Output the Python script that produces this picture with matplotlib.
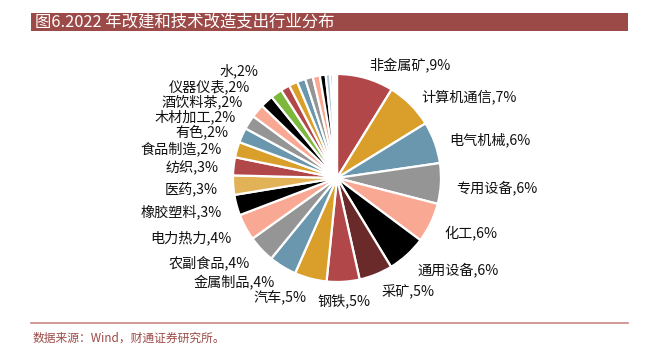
import math
import matplotlib
matplotlib.use("Agg")
import matplotlib.pyplot as plt
from matplotlib.patches import Rectangle

plt.rcParams['font.family'] = ['Noto Sans CJK SC', 'DejaVu Sans']

# ---- data ----
categories = ["非金属矿", "计算机通信", "电气机械", "专用设备", "化工", "通用设备",
              "采矿", "钢铁", "汽车", "金属制品", "农副食品", "电力热力",
              "橡胶塑料", "医药", "纺织", "食品制造", "有色", "木材加工",
              "酒饮料茶", "仪器仪表", "水",
              "", "", "", "", "", "", "", "", "", "", ""]
values = [8.8, 7.4, 6.5, 6.3, 6.2, 6.1,
          5.2, 5.1, 5.0, 4.3, 4.2, 4.1,
          3.2, 3.0, 2.8, 2.4, 2.3, 2.2,
          2.1, 2.0, 1.8,
          1.4, 1.35, 1.3, 1.2, 1.1, 0.9, 0.7, 0.4, 0.3, 0.2, 0.15]
pct_labels = ["9%", "7%", "6%", "6%", "6%", "6%",
              "5%", "5%", "5%", "4%", "4%", "4%",
              "3%", "3%", "3%", "2%", "2%", "2%",
              "2%", "2%", "2%",
              "", "", "", "", "", "", "", "", "", "", ""]

RED, GOLD, BLUE, GRAY, SALMON, BLACK = "#B2474A", "#DA9F2A", "#6B97AE", "#959595", "#F9A993", "#000000"
colors = [RED, GOLD, BLUE, GRAY, SALMON, BLACK, "#6A2A2A",
          RED, GOLD, BLUE, GRAY, SALMON, BLACK, "#E2B257",
          RED, GOLD, BLUE, GRAY, SALMON, BLACK, "#7CB83C",
          RED, GOLD, BLUE, GRAY, SALMON, BLACK, "#A9C7D8",
          RED, GOLD, "#C8D0D8", SALMON]

labels = [f"{c},{p}" if c else "" for c, p in zip(categories, pct_labels)]

W, H = 656, 354
fig = plt.figure(figsize=(W / 100, H / 100), dpi=100)
fig.patch.set_facecolor("white")

# title bar
fig.patches.append(Rectangle((31 / W, 1 - 31 / H), (628 - 31) / W, 18 / H,
                             transform=fig.transFigure, facecolor="#9C4A47",
                             edgecolor="none", zorder=0))
fig.text(35 / W, 1 - 22 / H, "图6.2022 年改建和技术改造支出行业分布",
         color="white", fontsize=11.8, va="center", ha="left")

# bottom rule and source
fig.add_artist(plt.Line2D([31 / W, 628 / W], [1 - 323 / H, 1 - 323 / H],
                          transform=fig.transFigure, color="#C98886", lw=1.2))
fig.text(33 / W, 1 - 338 / H, "数据来源：Wind，财通证券研究所。",
         color="#9C4A47", fontsize=8.5, va="center", ha="left")

# pie
cx, cy, r = 337, 178, 104
ax = fig.add_axes([(cx - r) / W, (H - cy - r) / H, 2 * r / W, 2 * r / H])
wedges, texts = ax.pie(values, labels=labels, colors=colors, startangle=90,
                       counterclock=False, labeldistance=1.15,
                       wedgeprops=dict(edgecolor="white", linewidth=1.6),
                       textprops=dict(fontsize=10.2, color="#111111"))
ax.set_xlim(-1, 1)
ax.set_ylim(-1, 1)
ax.set_aspect("equal")
ax.axis("off")

left = []
for t in texts:
    if not t.get_text():
        continue
    x, y = t.get_position()
    t.set_position((x, y - 0.03))
    if abs(x) < 0.25:
        t.set_ha("center")
    if x < 0:
        left.append(t)

# collision avoidance for crowded left-side labels: push outward radially
fig.canvas.draw()
renderer = fig.canvas.get_renderer()
left.sort(key=lambda t: t.get_position()[1])
placed = []
for t in left:
    x, y = t.get_position()
    R = math.hypot(x, y)
    ang = math.atan2(-x, y)
    for _ in range(60):
        bb = t.get_window_extent(renderer)
        if not any(bb.overlaps(p) for p in placed) or y < 0:
            break
        R += 0.01
        t.set_position((-R * math.sin(ang), R * math.cos(ang)))
    placed.append(t.get_window_extent(renderer))

fig.savefig("out.png", dpi=100)
